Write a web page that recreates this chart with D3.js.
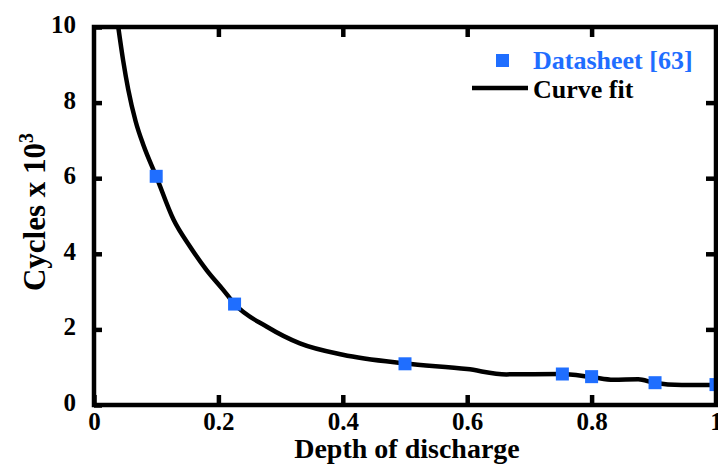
<!DOCTYPE html>
<html>
<head>
<meta charset="utf-8">
<script src="https://cdn.jsdelivr.net/npm/d3@7"></script>
<style>
  body { margin: 0; background: #fff; }
  text { font-family: "Liberation Serif", "Times New Roman", serif; font-weight: bold; }
</style>
</head>
<body>
<div id="chart"></div>
<script>
// datasheet points (depth of discharge vs cycles x 10^3)
var dod = [0.1, 0.226, 0.5, 0.753, 0.8, 0.902, 1.0];
var cycles = [6.05, 2.67, 1.09, 0.82, 0.75, 0.59, 0.54];

// curve fit
var fitX = [0.039, 0.047, 0.055, 0.067, 0.08, 0.1, 0.128, 0.154, 0.181, 0.208, 0.226,
            0.278, 0.331, 0.4, 0.5, 0.6, 0.663, 0.75, 0.8, 0.835, 0.875, 0.9, 0.945, 1.0];
var fitY = [10, 9.1, 8.35, 7.5, 6.85, 6.05, 4.9, 4.2, 3.57, 3.04, 2.67,
            2.07, 1.63, 1.33, 1.1, 0.95, 0.81, 0.82, 0.74, 0.67, 0.68, 0.59, 0.53, 0.53];

var xTicks = [0, 0.2, 0.4, 0.6, 0.8, 1];
var yTicks = [0, 2, 4, 6, 8, 10];

var W = 718, H = 464;
var mLeft = 94, mRight = 716, mTop = 27, mBottom = 405;
var blue = "#1f6eff";

var svg = d3.select("#chart").append("svg")
    .attr("width", W)
    .attr("height", H);

var x = d3.scaleLinear().domain([0, 1]).range([mLeft, mRight]);
var y = d3.scaleLinear().domain([0, 10]).range([mBottom, mTop]);

// clip for the curve
svg.append("clipPath").attr("id", "plot")
  .append("rect").attr("x", mLeft).attr("y", mTop)
  .attr("width", mRight - mLeft).attr("height", mBottom - mTop);

var fit = fitX.map(function(d, i) { return [d, fitY[i]]; });
var line = d3.line()
    .x(function(d) { return x(d[0]); })
    .y(function(d) { return y(d[1]); })
    .curve(d3.curveMonotoneX);

svg.append("path")
    .datum(fit)
    .attr("clip-path", "url(#plot)")
    .attr("d", line)
    .attr("fill", "none")
    .attr("stroke", "#000")
    .attr("stroke-width", 4.5)
    .attr("stroke-linejoin", "round");

// squares
svg.selectAll("rect.pt").data(dod).enter().append("rect")
    .attr("class", "pt")
    .attr("x", function(d) { return x(d) - 6.5; })
    .attr("y", function(d, i) { return y(cycles[i]) - 6.5; })
    .attr("width", 13).attr("height", 13)
    .attr("fill", blue);

// axes: ticks point inward on all four sides
var tickStyle = function(g) {
    g.select(".domain").remove();
    g.selectAll(".tick line").attr("stroke", "#000").attr("stroke-width", 4.5);
};

svg.append("g").attr("transform", "translate(0," + mBottom + ")")
    .call(d3.axisBottom(x).tickValues(xTicks).tickSize(-10).tickPadding(9)
        .tickFormat(function(d) { return d3.format("")(d); }))
    .call(tickStyle)
    .selectAll("text").attr("font-size", 25).attr("fill", "#000")
    .attr("dy", "0.62em")
    .attr("font-family", "Liberation Serif").attr("font-weight", "bold");

svg.append("g").attr("transform", "translate(0," + mTop + ")")
    .call(d3.axisTop(x).tickValues(xTicks.slice(1, -1)).tickSize(-10).tickFormat(""))
    .call(tickStyle);

svg.append("g").attr("transform", "translate(" + mLeft + ",0)")
    .call(d3.axisLeft(y).tickValues(yTicks).tickSize(-8).tickPadding(18))
    .call(tickStyle)
    .selectAll("text").attr("font-size", 25).attr("fill", "#000")
    .attr("dy", "0.22em")
    .attr("font-family", "Liberation Serif").attr("font-weight", "bold");

svg.append("g").attr("transform", "translate(" + mRight + ",0)")
    .call(d3.axisRight(y).tickValues(yTicks.slice(1, -1)).tickSize(-10).tickFormat(""))
    .call(tickStyle);

// frame
svg.append("rect")
    .attr("x", mLeft).attr("y", mTop)
    .attr("width", mRight - mLeft).attr("height", mBottom - mTop)
    .attr("fill", "none").attr("stroke", "#000").attr("stroke-width", 4.5);

// axis titles
svg.append("text")
    .attr("x", 407).attr("y", 458)
    .attr("text-anchor", "middle")
    .attr("font-size", 28)
    .text("Depth of discharge");

var yl = svg.append("text")
    .attr("transform", "translate(45,212) rotate(-90)")
    .attr("text-anchor", "middle")
    .attr("font-size", 31);
yl.append("tspan").text("Cycles x 10");
yl.append("tspan").attr("dy", -12).attr("font-size", 20).text("3");

// legend
svg.append("rect")
    .attr("x", 496).attr("y", 54).attr("width", 13).attr("height", 13)
    .attr("fill", blue);
svg.append("text")
    .attr("x", 533).attr("y", 69)
    .attr("font-size", 26).attr("fill", blue)
    .text("Datasheet [63]");
svg.append("line")
    .attr("x1", 472).attr("x2", 528).attr("y1", 88).attr("y2", 88)
    .attr("stroke", "#000").attr("stroke-width", 4.5);
svg.append("text")
    .attr("x", 533).attr("y", 98)
    .attr("font-size", 26).attr("fill", "#000")
    .text("Curve fit");
</script>
</body>
</html>
